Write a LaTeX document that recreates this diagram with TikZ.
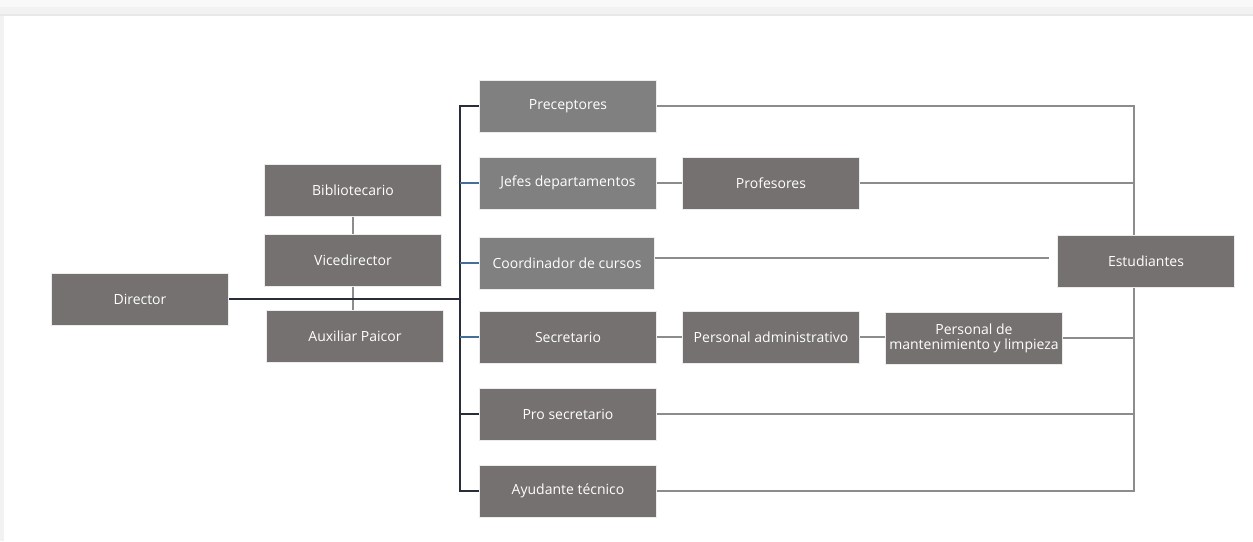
\documentclass[tikz,border=0pt]{standalone}
\usepackage{fontspec}
\setmainfont{Open Sans}
\usetikzlibrary{backgrounds}
\definecolor{boxA}{RGB}{117,113,112}
\definecolor{boxB}{RGB}{128,128,128}
\definecolor{lineg}{RGB}{140,140,140}
\definecolor{busdark}{RGB}{40,45,55}
\definecolor{busblue}{RGB}{70,110,155}
\tikzset{
  box/.style={fill=boxA, draw=white!85!gray, line width=0.6pt, text=white, minimum width=177pt, minimum height=52pt, inner sep=2pt, align=center, font=\fontsize{14}{15}\selectfont},
  boxl/.style={box, fill=boxB},
  conn/.style={draw=lineg, line width=1.1pt},
  bus/.style={draw=busdark, line width=1.4pt},
  bluebr/.style={draw=busblue, line width=1.2pt},
  dirline/.style={draw=busdark, line width=2pt}
}
\begin{document}
\begin{tikzpicture}[x=1pt,y=-1pt]
\useasboundingbox (0,0) rectangle (1253,541);
% screenshot frame
\fill[gray!5] (0,0) rectangle (1253,7);
\fill[gray!10] (0,7) rectangle (1253,14);
\fill[gray!18] (0,14) rectangle (1253,16);
\fill[gray!10] (0,16) rectangle (4,541);

\node[box]  (dir)  at (140,299) {Director};
\node[box]  (bib)  at (353,190) {Bibliotecario};
\node[box]  (vice) at (353,260) {Vicedirector};
\node[box]  (aux)  at (355,336) {Auxiliar Paicor};
\node[boxl] (prec) at (568,106) {Preceptores};
\node[boxl] (jefes) at (568,183) {Jefes departamentos};
\node[boxl, minimum width=175pt] (coord) at (567,263) {Coordinador de cursos};
\node[box]  (sec)  at (568,337) {Secretario};
\node[box]  (pro)  at (568,414) {Pro secretario};
\node[box]  (ayu)  at (568,491) {Ayudante técnico};
\node[box]  (prof) at (771,183) {Profesores};
\node[box]  (padm) at (771,337) {Personal administrativo};
\node[box]  (pman) at (974,338) {Personal de\\mantenimiento y limpieza};
\node[box]  (est)  at (1146,261) {Estudiantes};

\coordinate (lb) at (460,0);
\coordinate (rb) at (1134,0);

\begin{pgfonlayer}{background}
  % right collector bus
  \draw[conn] (prec.east) -- (prec.east -| rb) -- (ayu.east -| rb) -- (ayu.east);
  \draw[conn] (prof.east) -- (prof.east -| rb);
  \draw[conn] (pman.east) -- (pman.east -| rb);
  \draw[conn] (pro.east) -- (pro.east -| rb);
  \draw[conn] ([yshift=5pt]coord.east) -- ([xshift=-8pt,yshift=5pt]coord.east -| est.west);
  % chains
  \draw[conn] (jefes.east) -- (prof.west);
  \draw[conn] (sec.east) -- (padm.west);
  \draw[conn] (padm.east) -- (pman.west |- padm.east);
  % vice chain
  \draw[conn] (bib.south) -- (vice.north);
  \draw[conn] (vice.south) -- (vice.south |- aux.north);
  % left bus
  \draw[bus] (prec.west) -- (prec.west -| lb) -- (ayu.west -| lb) -- (ayu.west);
  \draw[bus] (pro.west) -- (pro.west -| lb);
  \draw[bluebr] (jefes.west) -- (jefes.west -| lb);
  \draw[bluebr] (coord.west) -- (coord.west -| lb);
  \draw[bluebr] (sec.west) -- (sec.west -| lb);
  \draw[dirline] (dir.east) -- (dir.east -| lb);
\end{pgfonlayer}
\end{tikzpicture}
\end{document}
